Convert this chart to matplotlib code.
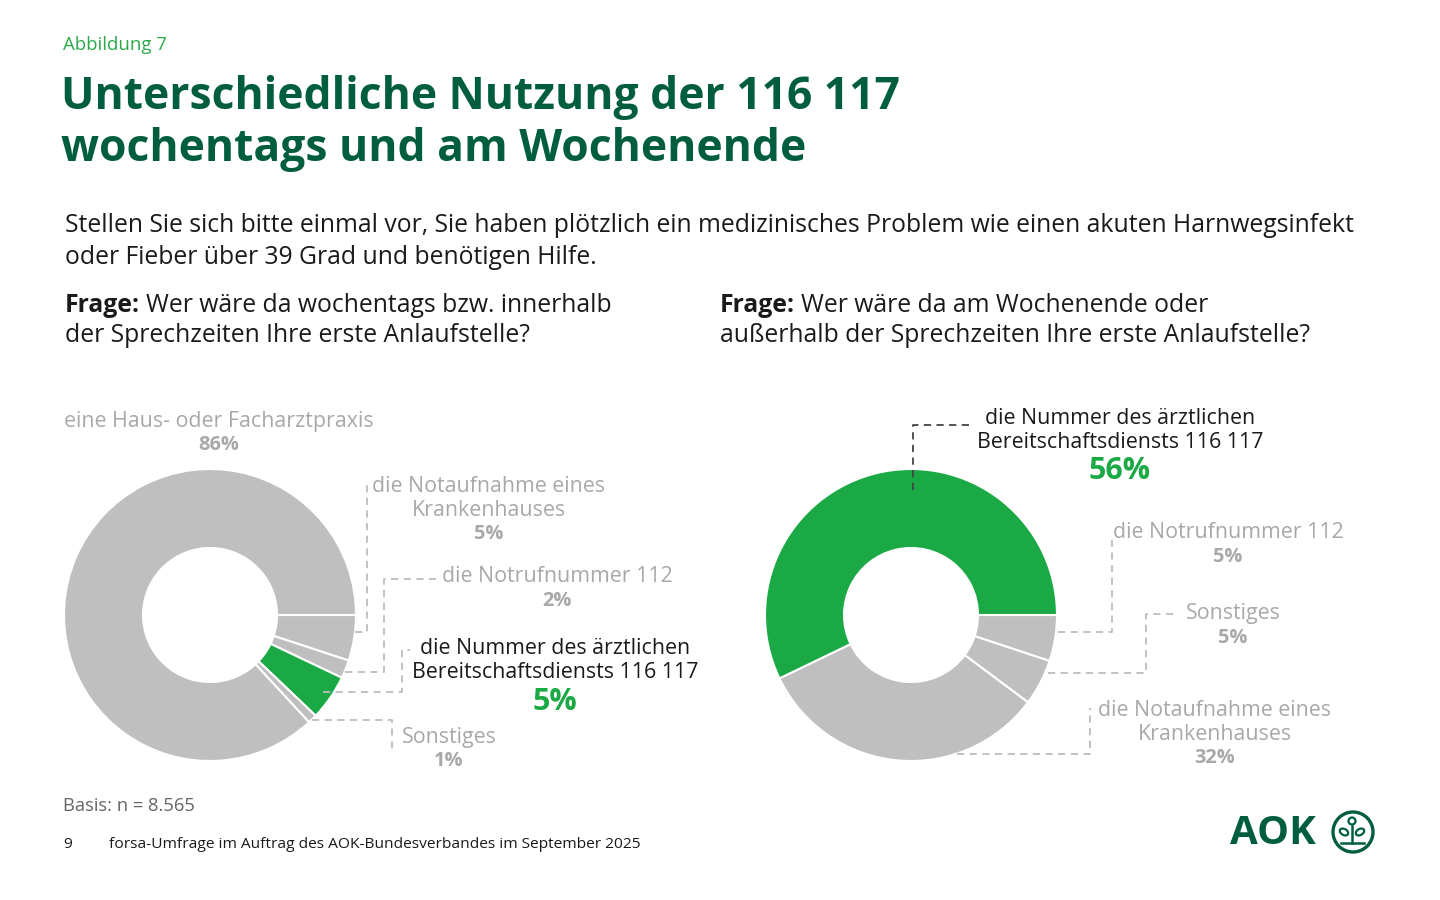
import numpy as np
import matplotlib.pyplot as plt
from matplotlib.patches import Circle, Ellipse

# data
left_labels = ['die Notaufnahme eines\nKrankenhauses', 'die Notrufnummer 112',
               'die Nummer des ärztlichen\nBereitschaftsdiensts 116 117', 'Sonstiges',
               'eine Haus- oder Facharztpraxis']
left_values = [5, 2, 5, 1, 86]
right_labels = ['die Notrufnummer 112', 'Sonstiges', 'die Notaufnahme eines\nKrankenhauses',
                'die Nummer des ärztlichen\nBereitschaftsdiensts 116 117']
right_values = [5, 5, 32, 56]

GRAY = '#BFBFBF'
GREEN = '#1AA944'
DARK = '#005E3F'
LABEL = '#A8A8A8'
LEAD = '#BDBDBD'
INK = '#1a1a1a'
FONT = 'Open Sans'

plt.rcParams['font.family'] = [FONT, 'DejaVu Sans']

H = 900
def Y(y):
    return H - y

fig = plt.figure(figsize=(14.4, 9), dpi=100)
ax = fig.add_axes([0, 0, 1, 1])
rend = fig.canvas.get_renderer()

def fit(s, width, weight='normal'):
    # font size that makes s about width pixels wide
    t = ax.text(0, 0, s, fontsize=20, fontweight=weight)
    w = t.get_window_extent(renderer=rend).width
    t.remove()
    return 20 * width / w

left_colors = [GRAY, GRAY, GREEN, GRAY, GRAY]
right_colors = [GRAY, GRAY, GRAY, GREEN]
wp = dict(width=146 - 67, edgecolor='white', linewidth=1.5)
ax.pie(left_values, colors=left_colors, startangle=0, counterclock=False,
       radius=146, center=(210, Y(615)), wedgeprops=wp)
ax.pie(right_values, colors=right_colors, startangle=0, counterclock=False,
       radius=146, center=(911, Y(615)), wedgeprops=wp)
ax.set_xlim(0, 1440)
ax.set_ylim(0, 900)
ax.set_aspect('auto')
ax.axis('off')

# sizes
fs_title = fit('Unterschiedliche Nutzung der 116 117', 839, 'bold')
fs_body = fit('der Sprechzeiten Ihre erste Anlaufstelle?', 465)
fs_lab = fit('Bereitschaftsdiensts 116 117', 286)
fs_pct = fit('86%', 41, 'bold')
fs_big = fit('56%', 62, 'bold')
fs_foot = fit('forsa-Umfrage im Auftrag des AOK-Bundesverbandes im September 2025', 528)
fs_basis = fit('Basis: n = 8.565', 132)
fs_abb = fit('Abbildung 7', 104)

# header
ax.text(63, Y(45), 'Abbildung 7', color='#2BA84A', fontsize=fs_abb, va='center')
ax.text(61, Y(97), 'Unterschiedliche Nutzung der 116 117', color=DARK, fontsize=fs_title,
        fontweight='bold', va='center')
ax.text(61, Y(149), 'wochentags und am Wochenende', color=DARK, fontsize=fs_title,
        fontweight='bold', va='center')
ax.text(65, Y(226), 'Stellen Sie sich bitte einmal vor, Sie haben plötzlich ein medizinisches '
        'Problem wie einen akuten Harnwegsinfekt', color=INK, fontsize=fs_body, va='center')
ax.text(65, Y(257), 'oder Fieber über 39 Grad und benötigen Hilfe.', color=INK,
        fontsize=fs_body, va='center')

def frage(x, y, rest):
    t = ax.text(x, Y(y), 'Frage:', color=INK, fontsize=fs_body, fontweight='bold',
                va='center')
    bb = t.get_window_extent(renderer=rend)
    ax.text(bb.x1 + 6, Y(y), rest, color=INK, fontsize=fs_body, va='center')

frage(65, 305, 'Wer wäre da wochentags bzw. innerhalb')
ax.text(65, Y(336), 'der Sprechzeiten Ihre erste Anlaufstelle?', color=INK,
        fontsize=fs_body, va='center')
frage(720, 305, 'Wer wäre da am Wochenende oder')
ax.text(720, Y(336), 'außerhalb der Sprechzeiten Ihre erste Anlaufstelle?', color=INK,
        fontsize=fs_body, va='center')

# labels
def label(x, y, text, pct, color=LABEL, pct_color=LABEL, pct_size=None, gap=24):
    lines = text.split('\n')
    for i, ln in enumerate(lines):
        ax.text(x, Y(y + i * 24), ln, color=color, fontsize=fs_lab, ha='center', va='center')
    ax.text(x, Y(y + (len(lines) - 1) * 24 + gap), f'{pct}%', color=pct_color,
            fontsize=pct_size or fs_pct, fontweight='bold', ha='center', va='center')

def leader(pts, color=LEAD):
    xs, ys = zip(*pts)
    ax.plot(xs, [Y(v) for v in ys], color=color, lw=1.3, ls=(0, (4, 3)))

label(219, 421, left_labels[4], left_values[4])
label(489, 486, left_labels[0], left_values[0])
label(557, 577, left_labels[1], left_values[1])
label(555, 649, left_labels[2], left_values[2], color=INK, pct_color=GREEN,
      pct_size=fs_big, gap=29)
label(449, 737, left_labels[3], left_values[3])

leader([(355, 632), (367, 632), (367, 480)])
leader([(345, 672), (384, 672), (384, 579), (438, 579)])
leader([(323, 692), (402, 692), (402, 650), (410, 650)])
leader([(312, 720), (392, 720), (392, 750)])

label(1120, 418, right_labels[3], right_values[3], color=INK, pct_color=GREEN,
      pct_size=fs_big, gap=29)
label(1228, 533, right_labels[0], right_values[0])
label(1233, 614, right_labels[1], right_values[1])
label(1215, 710, right_labels[2], right_values[2])

leader([(913, 490), (913, 425), (972, 425)], color='#444444')
leader([(1058, 632), (1112, 632), (1112, 535)])
leader([(1048, 673), (1146, 673), (1146, 614), (1176, 614)])
leader([(957, 754), (1090, 754), (1090, 708)])

# footer
ax.text(63, Y(806), 'Basis: n = 8.565', color='#666666', fontsize=fs_basis, va='center')
ax.text(63, Y(845), '9', color=INK, fontsize=fs_foot, va='center')
ax.text(109, Y(845), 'forsa-Umfrage im Auftrag des AOK-Bundesverbandes im September 2025',
        color=INK, fontsize=fs_foot, va='center')

# logo
fs_aok = fit('AOK', 86, 'bold')
ax.text(1230, Y(834), 'AOK', color=DARK, fontsize=fs_aok, fontweight='bold', va='center')
ax.add_patch(Circle((1353, Y(832)), 20, fill=False, ec=DARK, lw=2.4))
ax.plot([1352, 1352], [Y(826), Y(843)], color=DARK, lw=1.8)
ax.plot([1341, 1364], [Y(843), Y(843)], color=DARK, lw=1.8)
ax.add_patch(Circle((1352, Y(821)), 3.5, fill=False, ec=DARK, lw=1.6))
ax.add_patch(Ellipse((1344, Y(832)), 9, 6, angle=-30, fill=False, ec=DARK, lw=1.6))
ax.add_patch(Ellipse((1360, Y(832)), 9, 6, angle=30, fill=False, ec=DARK, lw=1.6))

fig.savefig('out.png', dpi=100, facecolor='white')
